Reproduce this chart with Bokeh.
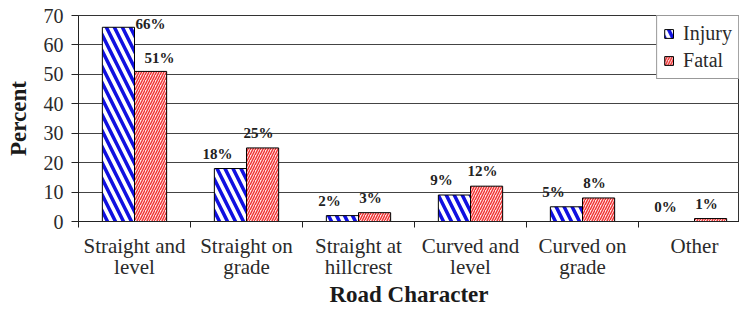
from bokeh.plotting import figure
from bokeh.models import (ColumnDataSource, Range1d, FixedTicker, LabelSet,
                          Legend, LegendItem)
from bokeh.embed import file_html
from bokeh.resources import INLINE

categories = ["Straight and\nlevel", "Straight on\ngrade", "Straight at\nhillcrest",
              "Curved and\nlevel", "Curved on\ngrade", "Other"]
injury = [66, 18, 2, 9, 5, 0]
fatal = [51, 25, 3, 12, 8, 1]
y_ticks = [0, 10, 20, 30, 40, 50, 60, 70]

SERIF = "Liberation Serif"
n = len(categories)
centers = [i + 0.5 for i in range(n)]
bw = 0.287
inj_x = [c - bw / 2 for c in centers]
fat_x = [c + bw / 2 for c in centers]

src_i = ColumnDataSource(dict(x=inj_x, top=injury,
                              lab=[f"{v}%" for v in injury],
                              dx=[32 if i == 0 else -13 for i in range(n)],
                              dy=[3 if i == 0 else 15 for i in range(n)]))
src_f = ColumnDataSource(dict(x=fat_x, top=fatal,
                              lab=[f"{v}%" for v in fatal],
                              dx=[9 if i == 0 else -4 for i in range(n)],
                              dy=[13 if i == 0 else 15 for i in range(n)]))

p = figure(width=739, height=310, output_backend="svg", toolbar_location=None,
           x_range=Range1d(0, 661 / 112), y_range=Range1d(0, 70),
           min_border_left=78, min_border_right=0, min_border_top=15,
           min_border_bottom=88)
p.outline_line_color = "#333333"
p.outline_line_width = 1

r_i = p.vbar(x="x", top="top", width=bw, source=src_i, fill_color="white",
             line_color="black", line_width=1, hatch_pattern="left_diagonal_line",
             hatch_color="#1010e0", hatch_weight=3.5, hatch_scale=16)
r_f = p.vbar(x="x", top="top", width=bw, source=src_f, fill_color="#ffe4e4",
             line_color="black", line_width=1, hatch_pattern="right_diagonal_line",
             hatch_color="#f03030", hatch_weight=1.4, hatch_scale=5)

for s in (src_i, src_f):
    p.add_layout(LabelSet(x="x", y="top", text="lab", source=s, x_offset="dx",
                          y_offset="dy", text_align="center", text_baseline="middle",
                          text_font=SERIF, text_font_style="bold",
                          text_font_size="15px", text_color="#222222"))

# axes
xa = p.xaxis[0]
xa.ticker = FixedTicker(ticks=centers, minor_ticks=list(range(n + 1)))
xa.major_label_overrides = {c: lab for c, lab in zip(centers, categories)}
xa.major_tick_out = 0
xa.major_tick_in = 0
xa.minor_tick_out = 6
xa.minor_tick_in = 0
xa.minor_tick_line_color = "#222222"
xa.major_label_standoff = 6
xa.major_label_text_font = SERIF
xa.major_label_text_font_size = "21px"
xa.major_label_text_line_height = 0.9
xa.major_label_text_color = "#2a2a2a"
xa.axis_label = "Road Character"
xa.axis_label_text_font = SERIF
xa.axis_label_text_font_style = "bold"
xa.axis_label_text_font_size = "23px"
xa.axis_label_text_color = "#1a1a1a"
xa.axis_label_standoff = 0
xa.axis_line_color = "#222222"

ya = p.yaxis[0]
ya.ticker = FixedTicker(ticks=y_ticks)
ya.minor_tick_line_color = None
ya.major_tick_out = 7
ya.major_tick_in = 0
ya.major_tick_line_color = "#222222"
ya.major_label_standoff = 8
ya.major_label_text_font = SERIF
ya.major_label_text_font_size = "20px"
ya.major_label_text_color = "#2a2a2a"
ya.axis_label = "Percent"
ya.axis_label_text_font = SERIF
ya.axis_label_text_font_style = "bold"
ya.axis_label_text_font_size = "23px"
ya.axis_label_text_color = "#1a1a1a"
ya.axis_label_standoff = 10
ya.axis_line_color = "#222222"

p.xgrid.grid_line_color = None
p.ygrid.grid_line_color = "#444444"
p.ygrid.grid_line_width = 1

legend = Legend(items=[LegendItem(label="Injury", renderers=[r_i]),
                       LegendItem(label="Fatal", renderers=[r_f])],
                location="top_right", margin=0, padding=6, spacing=4,
                glyph_width=11, glyph_height=11, label_height=18, label_standoff=9,
                label_text_font=SERIF, label_text_font_size="20px",
                label_text_color="#2a2a2a", border_line_color="#333333",
                background_fill_color="white", background_fill_alpha=1)
p.add_layout(legend)

open("out.html", "w").write(file_html(p, INLINE))
